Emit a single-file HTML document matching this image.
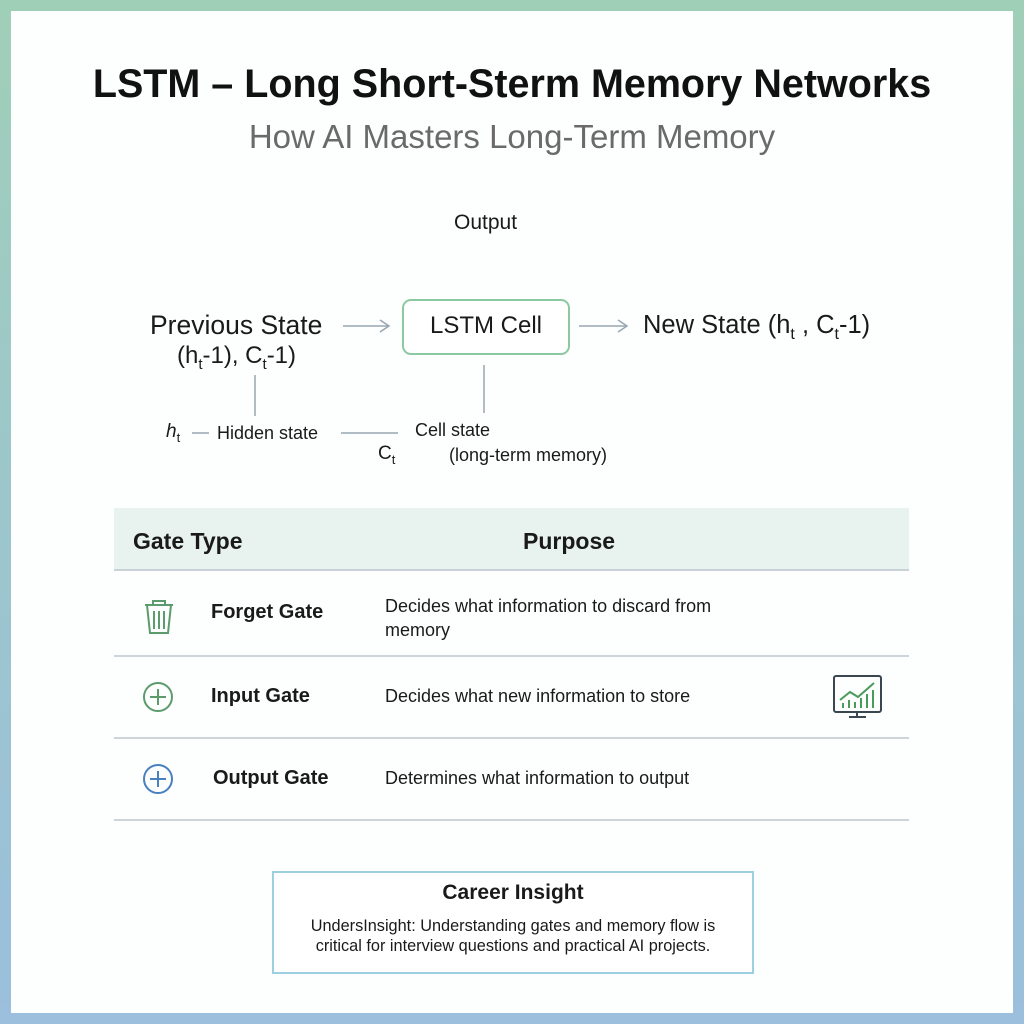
<!DOCTYPE html>
<html><head><style>
body{margin:0;width:1024px;height:1024px;background:linear-gradient(180deg,#a0cfb8 0%,#9cc6cc 50%,#9bbfdc 100%);position:relative;overflow:hidden;font-family:"Liberation Sans",sans-serif;}
#p{position:absolute;left:11px;top:11px;width:1002px;height:1002px;background:#fdfefe;}
.a{position:absolute;white-space:nowrap;color:#1a1a1a;}
.ln{position:absolute;background:#aab4bc;}
</style></head><body>
<div id="p"></div>
<div class="a" style="left:0;width:1024px;text-align:center;top:62px;font-size:39.5px;font-weight:bold;color:#111;">LSTM – Long Short-Sterm Memory Networks</div>
<div class="a" style="left:0;width:1024px;text-align:center;top:118px;font-size:33px;color:#6a6a6a;">How AI Masters Long-Term Memory</div>
<div class="a" style="left:454px;top:211px;font-size:21px;">Output</div>

<div class="a" style="left:150px;top:310px;font-size:26.5px;">Previous State</div>
<div class="a" style="left:177px;top:342px;font-size:24px;">(h<sub style="font-size:15px">t</sub>-1), C<sub style="font-size:15px">t</sub>-1)</div>
<svg style="position:absolute;left:0;top:0" width="1024" height="1024">
<g stroke="#9aa6b2" stroke-width="1.5" fill="none">
<line x1="343" y1="326" x2="388" y2="326"/><polyline points="380,320 389,326 380,332"/>
<line x1="579" y1="326" x2="626" y2="326"/><polyline points="618,320 627,326 618,332"/>
<line x1="255" y1="375" x2="255" y2="416"/>
<line x1="484" y1="365" x2="484" y2="413"/>
<line x1="192" y1="433" x2="209" y2="433"/>
<line x1="341" y1="433" x2="398" y2="433"/>
</g>
<g stroke="#5c9c6c" stroke-width="2" fill="none">
<path d="M145 605h28M153 605v-4h12v4M147 605l3 28h18l3-28M154 611v18M159 611v18M164 611v18"/>
<circle cx="158" cy="697" r="14"/><path d="M158 689v16M150 697h16"/>
</g>
<g stroke="#4a7fc0" stroke-width="2" fill="none"><circle cx="158" cy="779" r="14"/><path d="M158 771v16M150 779h16"/></g>
<g stroke="#3a4650" stroke-width="2" fill="none"><rect x="834" y="676" width="47" height="36" rx="2"/><path d="M857 712v5M849 717h17"/></g>
<g stroke="#4a9a5a" stroke-width="2" fill="none"><polyline points="840,700 850,692 858,697 874,683"/></g>
<g fill="#4a9a5a"><rect x="842" y="703" width="2" height="5"/><rect x="848" y="700" width="2" height="8"/><rect x="854" y="702" width="2" height="6"/><rect x="860" y="698" width="2" height="10"/><rect x="866" y="694" width="2" height="14"/><rect x="872" y="690" width="2" height="18"/></g>
</svg>
<div style="position:absolute;left:402px;top:299px;width:164px;height:52px;border:2px solid #8cc8a0;border-radius:9px;background:#fff;"></div>
<div class="a" style="left:402px;width:168px;text-align:center;top:312px;font-size:24px;">LSTM Cell</div>
<div class="a" style="left:643px;top:311px;font-size:25.5px;">New State (h<sub style="font-size:16px">t</sub> , C<sub style="font-size:16px">t</sub>-1)</div>

<div class="a" style="left:166px;top:421px;font-size:19px;font-style:italic;">h<sub style="font-size:13px;font-style:normal">t</sub></div>
<div class="a" style="left:217px;top:423px;font-size:18px;">Hidden state</div>
<div class="a" style="left:415px;top:420px;font-size:18px;">Cell state</div>
<div class="a" style="left:378px;top:443px;font-size:19px;">C<sub style="font-size:13px">t</sub></div>
<div class="a" style="left:449px;top:445px;font-size:18px;">(long-term memory)</div>

<div style="position:absolute;left:114px;top:508px;width:795px;height:61px;background:#e8f2ee;border-bottom:2px solid #c8d2d8;"></div>
<div class="a" style="left:133px;top:528px;font-size:23px;font-weight:bold;">Gate Type</div>
<div class="a" style="left:523px;top:528px;font-size:23px;font-weight:bold;">Purpose</div>
<div class="ln" style="left:114px;top:655px;width:795px;height:2px;background:#cdd5da"></div>
<div class="ln" style="left:114px;top:737px;width:795px;height:2px;background:#cdd5da"></div>
<div class="ln" style="left:114px;top:819px;width:795px;height:2px;background:#cdd5da"></div>
<div class="a" style="left:211px;top:601px;font-size:20px;font-weight:bold;">Forget Gate</div>
<div class="a" style="left:385px;top:594px;font-size:18px;line-height:24px;">Decides what information to discard from<br>memory</div>
<div class="a" style="left:211px;top:685px;font-size:20px;font-weight:bold;">Input Gate</div>
<div class="a" style="left:385px;top:686px;font-size:18px;">Decides what new information to store</div>
<div class="a" style="left:213px;top:767px;font-size:20px;font-weight:bold;">Output Gate</div>
<div class="a" style="left:385px;top:768px;font-size:18px;">Determines what information to output</div>

<div style="position:absolute;left:272px;top:871px;width:478px;height:99px;border:2px solid #9ccfe0;background:#fff;"></div>
<div class="a" style="left:272px;width:482px;text-align:center;top:881px;font-size:21px;font-weight:bold;">Career Insight</div>
<div class="a" style="left:272px;width:482px;text-align:center;top:916px;font-size:16.3px;line-height:20px;">UndersInsight: Understanding gates and memory flow is<br>critical for interview questions and practical AI projects.</div>
</body></html>
